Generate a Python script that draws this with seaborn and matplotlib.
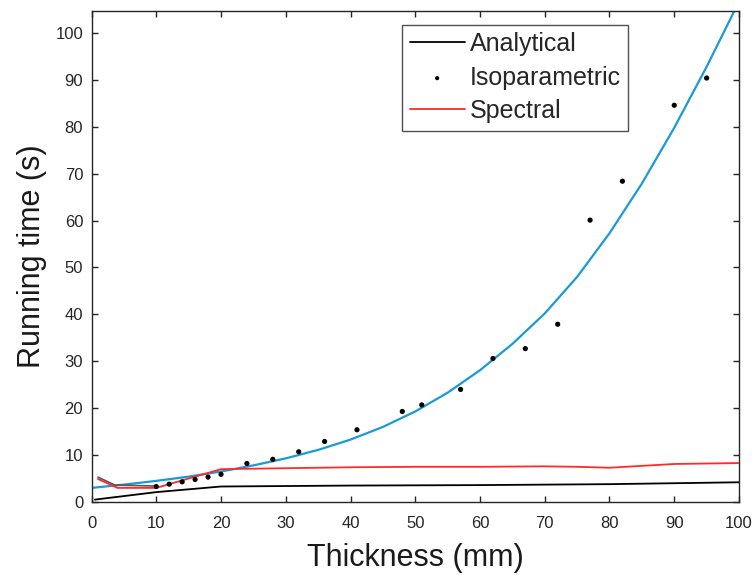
import numpy as np
import pandas as pd
import seaborn as sns
import matplotlib.pyplot as plt

# values
analytical_x = [0.5, 10, 20, 40, 60, 80, 90, 100]
analytical_y = [0.5, 2.1, 3.3, 3.5, 3.6, 3.8, 4.0, 4.2]

iso_x = [10, 12, 14, 16, 18, 20, 24, 28, 32, 36, 41, 48, 51, 57, 62, 67, 72, 77, 82, 90, 95]
iso_y = [3.3, 3.8, 4.3, 4.8, 5.3, 5.9, 8.2, 9.1, 10.7, 12.9, 15.4, 19.3, 20.7, 24.0,
         30.6, 32.7, 37.9, 60.1, 68.4, 84.6, 90.4]

spectral_x = [1, 4, 10, 20, 30, 40, 50, 60, 70, 75, 80, 90, 100]
spectral_y = [4.9, 3.0, 3.0, 7.0, 7.2, 7.4, 7.5, 7.5, 7.6, 7.5, 7.3, 8.1, 8.3]

# fitted curve (blue, not in legend)
fit_x = [0, 5, 10, 15, 20, 25, 30, 35, 40, 45, 50, 55, 60, 65, 70, 75, 80, 85, 90, 95, 100]
fit_y = [3.0, 3.7, 4.5, 5.4, 6.5, 7.8, 9.3, 11.1, 13.3, 16.0, 19.3, 23.3, 28.1, 33.7,
         40.2, 48.0, 57.3, 67.9, 79.8, 92.8, 106.7]

# short dark segment near the origin (not in legend)
extra_x = [1, 3.6, 10]
extra_y = [5.3, 3.6, 3.4]

sns.set_style("ticks")
plt.rcParams["font.family"] = ["Liberation Sans", "DejaVu Sans"]

fig = plt.figure(figsize=(7.55, 5.75), dpi=100)
ax = fig.add_axes([0.1212, 0.127, 0.8576, 0.8539])

sns.lineplot(x=fit_x, y=fit_y, color="#1a9ad6", linewidth=1.6, ax=ax, zorder=2)
sns.lineplot(x=extra_x, y=extra_y, color="#555555", linewidth=1.2, ax=ax, zorder=2)
sns.lineplot(x=analytical_x, y=analytical_y, color="black", linewidth=1.3,
             label="Analytical", ax=ax, zorder=3)
sns.scatterplot(x=iso_x, y=iso_y, color="black", s=14, edgecolor="none",
                label="Isoparametric", ax=ax, zorder=4)
sns.lineplot(x=spectral_x, y=spectral_y, color="#ff2a2a", linewidth=1.3,
             label="Spectral", ax=ax, zorder=3)

ax.set_xlim(0, 100)
ax.set_ylim(0, 104.7)
ax.set_xticks(np.arange(0, 101, 10))
ax.set_yticks(np.arange(0, 101, 10))
ax.tick_params(direction="in", length=4, width=1, labelsize=12, colors="#262626",
               top=True, right=True)
ax.tick_params(axis="x", pad=10)
ax.tick_params(axis="y", pad=6)
for sp in ax.spines.values():
    sp.set_visible(True)
    sp.set_color("#262626")
    sp.set_linewidth(1.0)

ax.set_xlabel("Thickness (mm)", fontsize=22, color="#1a1a1a", labelpad=9)
ax.set_ylabel("Running time (s)", fontsize=22, color="#1a1a1a", labelpad=6)

handles, labels = ax.get_legend_handles_labels()
leg = ax.legend(handles, labels, loc="upper right", bbox_to_anchor=(0.829, 0.972),
                borderaxespad=0, fontsize=18, frameon=True, fancybox=False,
                handlelength=2.2, handletextpad=0.2, labelspacing=0.38,
                borderpad=0.3, markerscale=0.8)
leg.get_frame().set_edgecolor("#262626")
leg.get_frame().set_linewidth(1.0)

fig.savefig("out.png", dpi=100)
